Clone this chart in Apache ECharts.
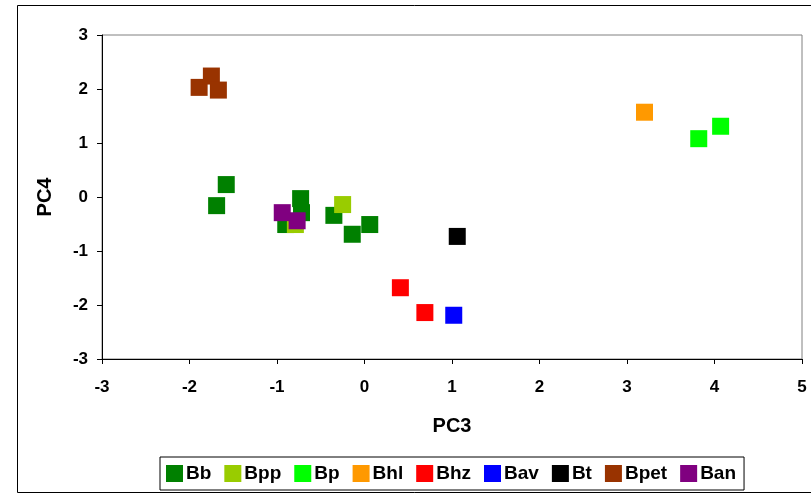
<!DOCTYPE html>
<html>
<head>
<meta charset="utf-8">
<script src="https://cdn.jsdelivr.net/npm/echarts@6/dist/echarts.min.js"></script>
<style>
  html, body { margin: 0; padding: 0; background: #fff; }
</style>
</head>
<body>
<div id="myChart" style="width:811px;height:497px;"></div>
<script>
// PCA scores, PC3 vs PC4, one array per group: [PC3, PC4]
var Bb = [[-1.58, 0.23], [-1.69, -0.16], [-0.73, -0.03], [-0.72, -0.29], [-0.90, -0.51],
          [-0.35, -0.34], [-0.14, -0.69], [0.06, -0.51]];
var Bpp = [[-0.25, -0.14], [-0.79, -0.51]];
var Bp = [[3.82, 1.08], [4.07, 1.31]];
var Bhl = [[3.20, 1.57]];
var Bhz = [[0.41, -1.68], [0.69, -2.14]];
var Bav = [[1.02, -2.19]];
var Bt = [[1.06, -0.73]];
var Bpet = [[-1.89, 2.03], [-1.75, 2.24], [-1.67, 1.98]];
var Ban = [[-0.94, -0.29], [-0.77, -0.44]];

var groupNames = ['Bb', 'Bpp', 'Bp', 'Bhl', 'Bhz', 'Bav', 'Bt', 'Bpet', 'Ban'];
var groupData = [Bb, Bpp, Bp, Bhl, Bhz, Bav, Bt, Bpet, Ban];
var groupColors = ['#008000', '#99cc00', '#00ff00', '#ff9900', '#ff0000', '#0000ff', '#000000', '#993300', '#800080'];

var xTicks = [-3, -2, -1, 0, 1, 2, 3, 4, 5];
var yTicks = [-3, -2, -1, 0, 1, 2, 3];

var font = '"Liberation Sans Narrow", "Arial Narrow", "Liberation Sans", sans-serif';

var myChart = echarts.init(document.getElementById('myChart'));

var series = groupNames.map(function (name, i) {
    return {
        name: name,
        type: 'scatter',
        symbol: 'rect',
        symbolSize: 17,
        data: groupData[i],
        itemStyle: { color: groupColors[i], opacity: 1 },
        animation: false
    };
});

var option = {
    backgroundColor: '#ffffff',
    textStyle: { fontFamily: font },
    graphic: [{
        type: 'rect',
        shape: { x: 17.5, y: 5.5, width: 800, height: 487 },
        style: { fill: 'none', stroke: '#000', lineWidth: 1 },
        z: -1
    }],
    grid: {
        left: 102,
        top: 35,
        right: 9,
        bottom: 138,
        show: true,
        borderColor: '#808080',
        borderWidth: 1
    },
    legend: {
        left: 160,
        top: 457,
        data: groupNames,
        icon: 'rect',
        itemWidth: 17,
        itemHeight: 17,
        itemGap: 13,
        padding: [7, 8, 7, 6],
        borderColor: '#000',
        borderWidth: 1,
        textStyle: { fontFamily: font, fontWeight: 'bold', fontSize: 19, color: '#000', padding: [0, 0, 0, -2] }
    },
    xAxis: {
        type: 'value',
        min: xTicks[0],
        max: xTicks[xTicks.length - 1],
        interval: 1,
        name: 'PC3',
        nameLocation: 'middle',
        nameGap: 57,
        nameTextStyle: { fontFamily: font, fontWeight: 'bold', fontSize: 20, color: '#000' },
        axisLine: { show: true, onZero: false, lineStyle: { color: '#000', width: 1 } },
        axisTick: { show: true, length: 5, lineStyle: { color: '#000' } },
        axisLabel: { margin: 20, fontFamily: font, fontWeight: 'bold', fontSize: 17, color: '#000' },
        splitLine: { show: false }
    },
    yAxis: {
        type: 'value',
        min: yTicks[0],
        max: yTicks[yTicks.length - 1],
        interval: 1,
        name: 'PC4',
        nameLocation: 'middle',
        nameGap: 47,
        nameTextStyle: { fontFamily: font, fontWeight: 'bold', fontSize: 20, color: '#000' },
        axisLine: { show: true, onZero: false, lineStyle: { color: '#000', width: 1 } },
        axisTick: { show: true, length: 5, lineStyle: { color: '#000' } },
        axisLabel: { margin: 14, fontFamily: font, fontWeight: 'bold', fontSize: 17, color: '#000' },
        splitLine: { show: false }
    },
    series: series
};
myChart.setOption(option);
</script>
</body>
</html>
